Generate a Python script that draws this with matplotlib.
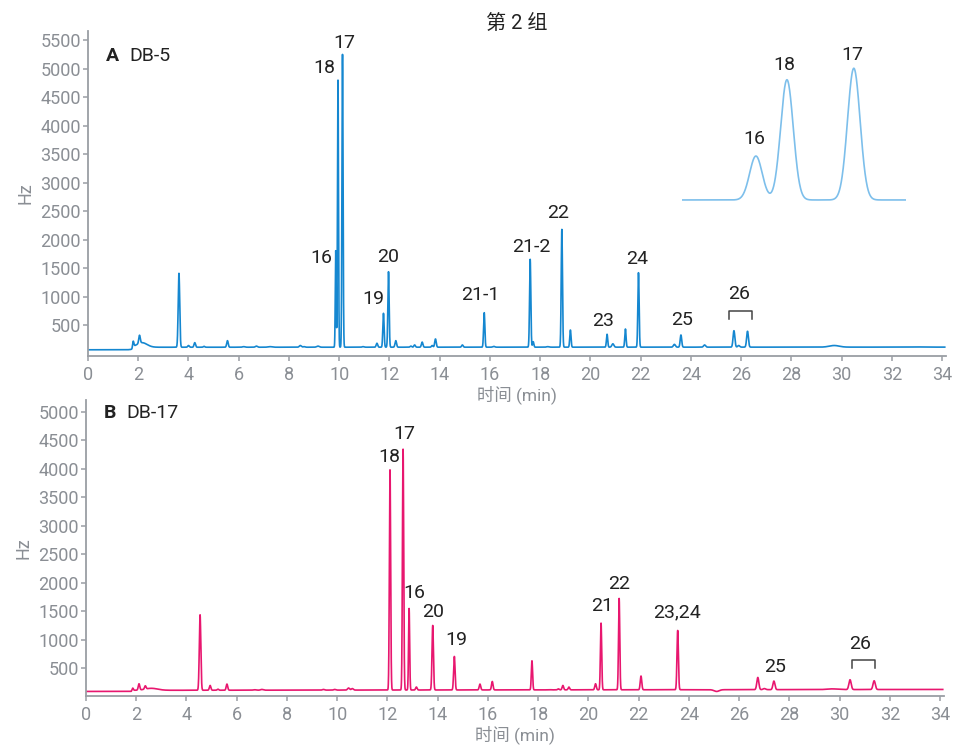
import numpy as np
import matplotlib
matplotlib.use('Agg')
import matplotlib.pyplot as plt

plt.rcParams['font.family'] = ['Roboto', 'Noto Sans CJK SC', 'DejaVu Sans']

# ---- panel A: DB-5 (retention time min, peak top Hz, sigma min)
a_times = [1.80, 2.05, 2.15, 3.62, 4.00, 4.25, 4.62, 5.55, 6.20, 6.70, 7.25, 8.45, 8.60, 9.15,
           9.86, 9.95, 10.13, 10.95, 11.50, 11.76, 11.96, 12.25, 12.85, 13.00, 13.30, 13.70,
           13.83, 14.90, 15.77, 16.15, 17.60, 17.72, 18.30, 18.86, 19.20, 20.66, 20.89, 21.39,
           21.91, 23.34, 23.60, 24.54, 25.71, 25.90, 26.25, 29.70, 33.00]
a_tops = [200, 250, 190, 1407, 140, 190, 125, 225, 120, 130, 120, 140, 120, 130,
          1804, 4798, 5249, 120, 180, 705, 1435, 225, 130, 150, 200, 140,
          255, 150, 716, 125, 1653, 207, 120, 2178, 412, 337, 170, 430,
          1418, 160, 325, 150, 400, 140, 390, 140, 115]
a_sigma = [0.025, 0.03, 0.2, 0.03, 0.03, 0.03, 0.03, 0.03, 0.05, 0.04, 0.08, 0.04, 0.04, 0.05,
           0.018, 0.02, 0.022, 0.04, 0.03, 0.025, 0.025, 0.03, 0.03, 0.03, 0.03, 0.03,
           0.03, 0.03, 0.025, 0.04, 0.025, 0.025, 0.05, 0.025, 0.025, 0.025, 0.04, 0.025,
           0.025, 0.04, 0.03, 0.04, 0.035, 0.04, 0.035, 0.2, 0.2]
a_base_t = [0, 1.75, 1.80, 34.1]
a_base_v = [65, 65, 110, 112]
a_labels = ['17', '18', '16', '20', '19', '21-1', '21-2', '22', '23', '24', '25', '26']
a_lab_x = [10.19, 9.42, 9.29, 11.94, 11.35, 15.63, 17.66, 18.70, 20.52, 21.84, 23.64, 25.90]
a_lab_y = [5442, 5014, 1681, 1698, 951, 1026, 1874, 2460, 575, 1652, 588, 1039]
a_bracket = [25.50, 26.41, 750, 605]   # x0, x1, top, leg end

# inset (zoom of peaks 16/18/17)
ins_times = [9.86, 9.97, 10.207]
ins_tops = [1804, 4798, 5249]
ins_labels = ['16', '18', '17']
ins_lab_x = [9.853, 9.961, 10.202]
ins_lab_y = [2461, 5377, 5769]

# ---- panel B: DB-17
b_times = [1.86, 2.11, 2.36, 2.60, 4.54, 4.94, 5.25, 5.61, 6.70, 7.00, 9.45, 9.90, 10.45, 10.60,
           12.10, 12.62, 12.86, 13.15, 13.80, 14.66, 15.68, 16.17, 17.75, 18.50, 18.80, 18.98,
           19.22, 20.28, 20.50, 21.22, 22.09, 23.55, 25.10, 26.74, 27.00, 27.38, 29.70, 30.41, 31.37]
b_tops = [148, 219, 167, 145, 1435, 195, 130, 219, 120, 125, 125, 125, 150, 140,
          3979, 4342, 1546, 167, 1248, 704, 219, 265, 628, 120, 135, 195,
          167, 225, 1289, 1722, 360, 1160, 90, 335, 140, 272, 135, 295, 277]
b_sigma = [0.025, 0.03, 0.03, 0.25, 0.03, 0.03, 0.03, 0.03, 0.05, 0.05, 0.04, 0.04, 0.04, 0.04,
           0.025, 0.025, 0.022, 0.03, 0.028, 0.028, 0.03, 0.03, 0.025, 0.03, 0.03, 0.03,
           0.03, 0.03, 0.025, 0.025, 0.03, 0.028, 0.1, 0.04, 0.05, 0.04, 0.2, 0.045, 0.045]
b_base_t = [0, 1.80, 1.85, 34.1]
b_base_v = [90, 90, 110, 125]
b_labels = ['17', '18', '16', '20', '19', '21', '22', '23,24', '25', '26']
b_lab_x = [12.67, 12.06, 13.06, 13.83, 14.72, 20.55, 21.22, 23.54, 27.43, 30.81]
b_lab_y = [4605, 4212, 1816, 1482, 996, 1581, 1974, 1482, 518, 921]
b_bracket = [30.48, 31.41, 646, 500]

BLUE = '#1587d0'
PINK = '#e8176f'
LIGHT = '#7dbfeb'
GRAY = '#8a8e94'
TXT = '#222222'
LAB = 14


def trace(t, base_t, base_v, times, tops, sigmas):
    base = np.interp(t, base_t, base_v)
    y = base.copy()
    for tc, top, s in zip(times, tops, sigmas):
        h = top - np.interp(tc, base_t, base_v)
        y += h * np.exp(-(t - tc) ** 2 / (2 * s ** 2))
    return y


def style(ax, ymax, ylim):
    ax.patch.set_visible(False)
    for s in ['top', 'right']:
        ax.spines[s].set_visible(False)
    for s in ['left', 'bottom']:
        ax.spines[s].set_color('#9a9ea4')
        ax.spines[s].set_linewidth(1.3)
    ax.set_xlim(0, 34.15)
    ax.set_ylim(*ylim)
    ax.set_xticks(np.arange(0, 35, 2))
    ax.set_yticks(np.arange(500, ymax + 1, 500))
    ax.tick_params(colors='#9a9ea4', labelcolor=GRAY, labelsize=13, length=3.5, width=1.1)
    ax.tick_params(axis='y', pad=1.5)
    ax.set_xlabel('时间 (min)', color=GRAY, fontsize=12.5, labelpad=1)
    ax.set_ylabel('Hz', color=GRAY, fontsize=13, labelpad=4)


def bracket(ax, b):
    x0, x1, top, low = b
    ax.plot([x0, x0, x1, x1], [low, top, top, low], color='#444444', lw=1.1)


fig = plt.figure(figsize=(9.56, 7.47), dpi=100)
t = np.linspace(0, 34.1, 13641)

# panel B first so panel A's x label sits above it
ax2 = fig.add_axes([86 / 956, 1 - 696 / 747, 858 / 956, 296 / 747])
yb = trace(t, b_base_t, b_base_v, b_times, b_tops, b_sigma)
ax2.plot(t, yb, color=PINK, lw=1.2)
style(ax2, 5000, (10, 5205))
for lab, x, y in zip(b_labels, b_lab_x, b_lab_y):
    ax2.text(x, y, lab, ha='center', va='center', fontsize=LAB, color=TXT)
bracket(ax2, b_bracket)
ax2.text(0.028, 0.955, 'B', transform=ax2.transAxes, ha='center', va='center',
         fontsize=LAB, fontweight='bold', color=TXT)
ax2.text(0.047, 0.955, 'DB-17', transform=ax2.transAxes, ha='left', va='center',
         fontsize=LAB, color=TXT)

# panel A
ax1 = fig.add_axes([88 / 956, 1 - 356 / 747, 858 / 956, 325 / 747])
ya = trace(t, a_base_t, a_base_v, a_times, a_tops, a_sigma)
ax1.plot(t, ya, color=BLUE, lw=1.2)
style(ax1, 5500, (-44, 5660))
for lab, x, y in zip(a_labels, a_lab_x, a_lab_y):
    ax1.text(x, y, lab, ha='center', va='center', fontsize=LAB, color=TXT)
bracket(ax1, a_bracket)
ax1.text(0.029, 0.924, 'A', transform=ax1.transAxes, ha='center', va='center',
         fontsize=LAB, fontweight='bold', color=TXT)
ax1.text(0.048, 0.924, 'DB-5', transform=ax1.transAxes, ha='left', va='center',
         fontsize=LAB, color=TXT)

# inset
ins = fig.add_axes([682 / 956, 1 - 202 / 747, 224 / 956, 142.7 / 747])
ti = np.linspace(9.598, 10.392, 800)
yi = trace(ti, [9.5, 10.5], [80, 80], ins_times, ins_tops, [0.0223] * 3)
ins.plot(ti, yi, color=LIGHT, lw=1.2)
ins.set_xlim(9.598, 10.392)
ins.set_ylim(0, 5600)
ins.axis('off')
for lab, x, y in zip(ins_labels, ins_lab_x, ins_lab_y):
    ins.text(x, y, lab, ha='center', va='center', fontsize=LAB, color=TXT)

fig.text(517 / 956, 1 - 23 / 747, '第 2 组', ha='center', va='center', fontsize=14.5, color=TXT)

fig.savefig('out.png', dpi=100)
